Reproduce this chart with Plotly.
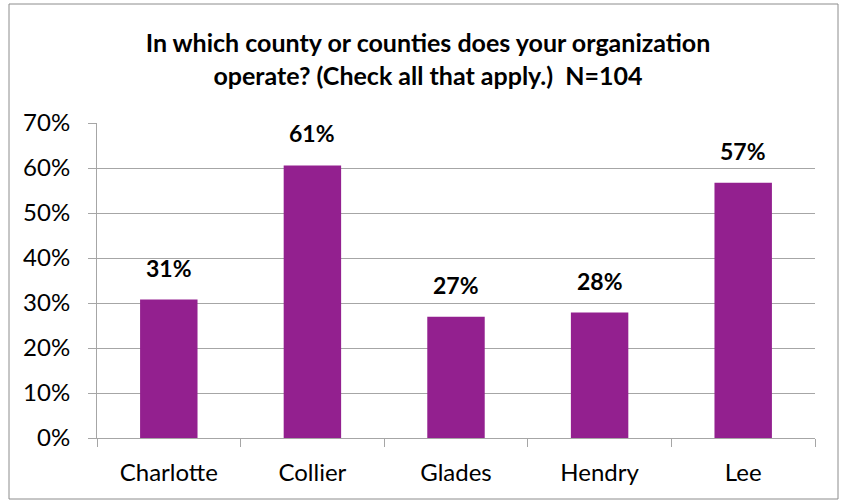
import plotly.graph_objects as go

# Share of organizations operating in each county (N=104, multiple answers allowed)
counties = ["Charlotte", "Collier", "Glades", "Hendry", "Lee"]
shares = [0.3077, 0.6058, 0.2692, 0.2788, 0.5673]
y_ticks = [0, 0.1, 0.2, 0.3, 0.4, 0.5, 0.6, 0.7]

W, H = 842, 502
L, R, T, B = 97, 27, 123, 64
pw, ph = W - L - R, H - T - B

font_family = "Lato, 'Open Sans', sans-serif"
grid_col = "#A6A6A6"

fig = go.Figure(
    go.Bar(
        x=counties,
        y=shares,
        marker=dict(color="#93208F", line=dict(width=0)),
        width=0.4,
        hoverinfo="x+y",
    )
)

# Percentage labels above each bar
for c, v in zip(counties, shares):
    fig.add_annotation(
        x=c,
        y=v,
        xref="x",
        yref="y",
        text=f"{v:.0%}",
        showarrow=False,
        yanchor="bottom",
        yshift=16,
        font=dict(family=font_family, size=23, color="#000000", weight="bold"),
    )

def px_x(v):
    return (v - L) / pw

def px_y(v):
    return 1 - (v - T) / ph

fig.update_layout(
    width=W,
    height=H,
    margin=dict(l=L, r=R, t=T, b=B),
    paper_bgcolor="white",
    plot_bgcolor="white",
    showlegend=False,
    title=dict(
        text="In which county or counties does your organization<br>operate? (Check all that apply.)  N=104",
        x=428 / W,
        xref="container",
        xanchor="center",
        y=1 - 52 / H,
        yref="container",
        yanchor="middle",
        font=dict(family=font_family, size=25, color="#000000", weight="bold"),
    ),
    font=dict(family=font_family, size=24, color="#000000"),
    xaxis=dict(
        showline=True,
        linecolor=grid_col,
        linewidth=1,
        ticks="outside",
        tickson="boundaries",
        ticklen=8,
        tickcolor=grid_col,
        showgrid=False,
        ticklabelstandoff=13,
        tickfont=dict(size=24),
    ),
    yaxis=dict(
        range=[0, 0.7],
        tickvals=y_ticks,
        tickformat=".0%",
        showline=True,
        linecolor=grid_col,
        linewidth=1,
        ticks="outside",
        ticklen=8,
        tickcolor=grid_col,
        showgrid=True,
        gridcolor=grid_col,
        gridwidth=1,
        zeroline=False,
        ticklabelstandoff=13,
        tickfont=dict(size=24),
    ),
    shapes=[
        dict(
            type="rect",
            xref="paper",
            yref="paper",
            x0=px_x(9),
            x1=px_x(838),
            y0=px_y(499),
            y1=px_y(4),
            line=dict(color="#8C8C8C", width=1),
            fillcolor="rgba(0,0,0,0)",
            layer="below",
        )
    ],
)

fig.write_html("out.html")
